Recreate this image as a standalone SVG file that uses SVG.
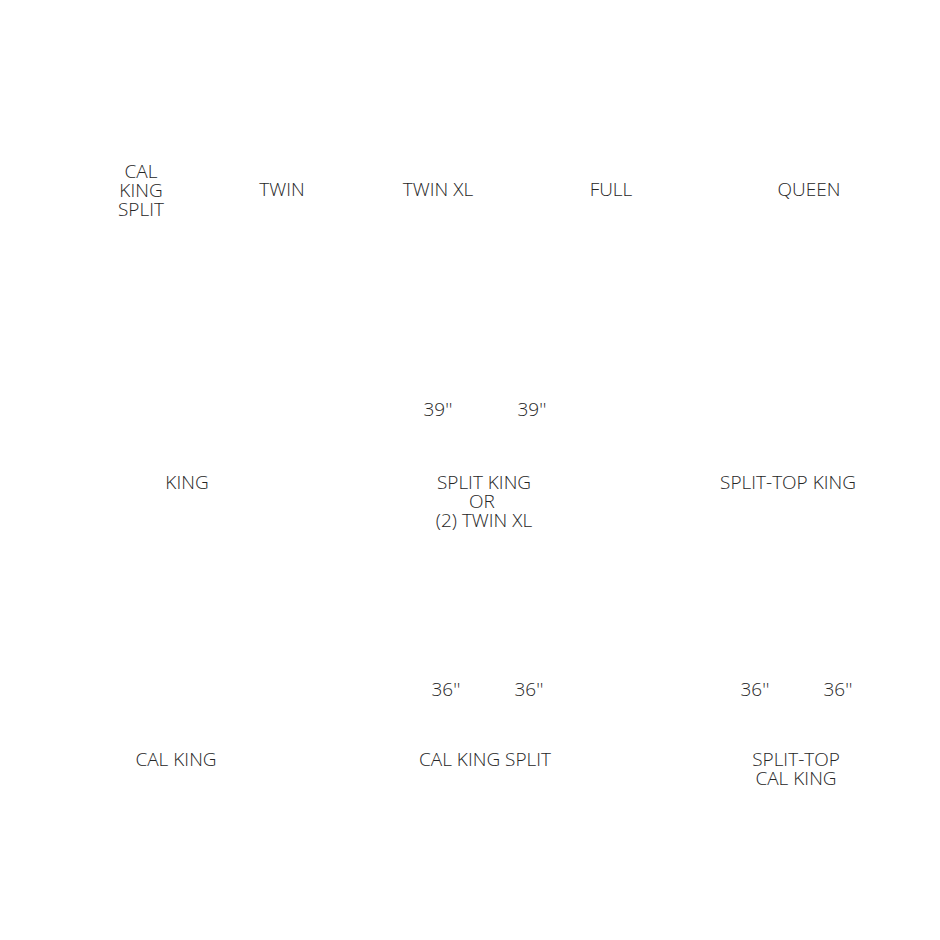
<svg xmlns="http://www.w3.org/2000/svg" width="940" height="940" viewBox="0 0 940 940">
<style>
text{font-family:"Open Sans","Liberation Sans",sans-serif;font-weight:300;font-size:19px;fill:#262626;text-anchor:middle}
</style>
<rect width="940" height="940" fill="#fff"/>
<g id="cal-king-split-top"><text x="141" y="178">CAL</text><text x="141" y="197">KING</text><text x="141" y="216">SPLIT</text></g>
<g id="twin"><text x="282" y="196">TWIN</text></g>
<g id="twin-xl"><text x="438" y="196">TWIN XL</text></g>
<g id="full"><text x="611" y="196">FULL</text></g>
<g id="queen"><text x="809" y="196">QUEEN</text></g>
<g id="king"><text x="187" y="489">KING</text></g>
<g id="split-king"><text x="438" y="416">39''</text><text x="532" y="416">39''</text><text x="484" y="489">SPLIT KING</text><text x="482" y="508">OR</text><text x="484" y="527">(2) TWIN XL</text></g>
<g id="split-top-king"><text x="788" y="489">SPLIT-TOP KING</text></g>
<g id="cal-king"><text x="176" y="766">CAL KING</text></g>
<g id="cal-king-split"><text x="446" y="696">36''</text><text x="529" y="696">36''</text><text x="485" y="766">CAL KING SPLIT</text></g>
<g id="split-top-cal-king"><text x="755" y="696">36''</text><text x="838" y="696">36''</text><text x="796" y="766">SPLIT-TOP</text><text x="796" y="785">CAL KING</text></g>
<g id="connectors"></g>
</svg>
